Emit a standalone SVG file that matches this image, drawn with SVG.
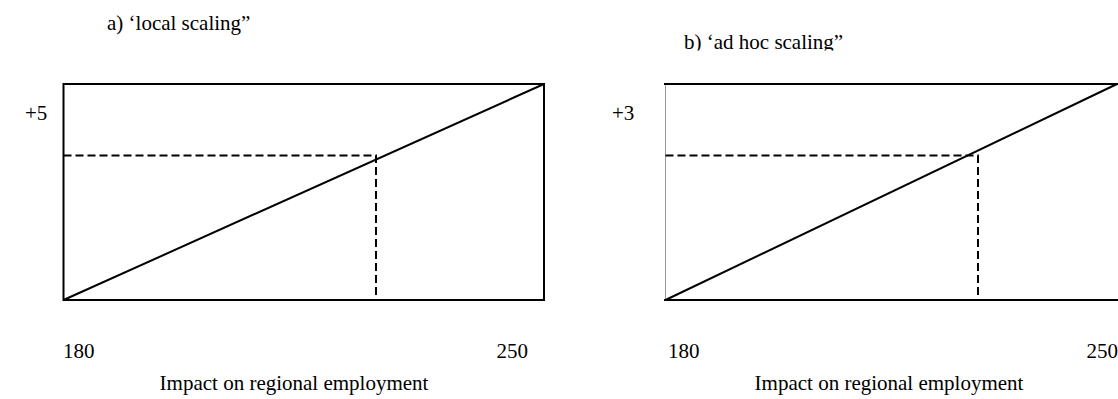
<svg xmlns="http://www.w3.org/2000/svg" width="1118" height="399" viewBox="0 0 1118 399">
<style>
  text { font-family: "Liberation Serif", "Times New Roman", serif; font-size: 21px; fill: #000; }
  .mid { text-anchor: middle; }
  .end { text-anchor: end; }
  .frame { fill: none; stroke: #000; stroke-width: 2; }
  .grey { stroke: #999; stroke-width: 1; fill: none; }
  .line { stroke: #000; stroke-width: 2; fill: none; }
  .dash { stroke: #000; stroke-width: 2; fill: none; stroke-dasharray: 8 4; }
</style>
<defs>
  <clipPath id="cutB"><rect x="600" y="0" width="518" height="50.5"/></clipPath>
</defs>
<rect width="1118" height="399" fill="#fff"/>
<g id="panel-a">
  <text x="107" y="30">a) ‘local scaling”</text>
  <rect class="frame" x="63.5" y="84" width="480.5" height="216"/>
  <text x="25" y="120">+5</text>
  <text x="63" y="358">180</text>
  <text class="end" x="528" y="358">250</text>
  <text class="mid" x="294" y="390">Impact on regional employment</text>
</g>
<g id="panel-b">
  <text x="684" y="49" clip-path="url(#cutB)">b) ‘ad hoc scaling”</text>
  <line class="grey" x1="665.5" y1="84" x2="665.5" y2="300"/>
  <line class="frame" x1="664" y1="84" x2="1118" y2="84"/>
  <line class="frame" x1="664" y1="300" x2="1118" y2="300"/>
  <text x="612" y="120">+3</text>
  <text x="668" y="358">180</text>
  <text class="end" x="1118" y="358">250</text>
  <text class="mid" x="889" y="390">Impact on regional employment</text>
</g>
<g id="connectors">
  <line class="line" x1="63.5" y1="300" x2="544" y2="84"/>
  <polyline class="dash" points="63.5,155.5 376,155.5 376,300"/>
  <line class="line" x1="665.5" y1="300" x2="1117" y2="84"/>
  <polyline class="dash" points="665.5,155.5 978,155.5 978,300"/>
</g>
</svg>
